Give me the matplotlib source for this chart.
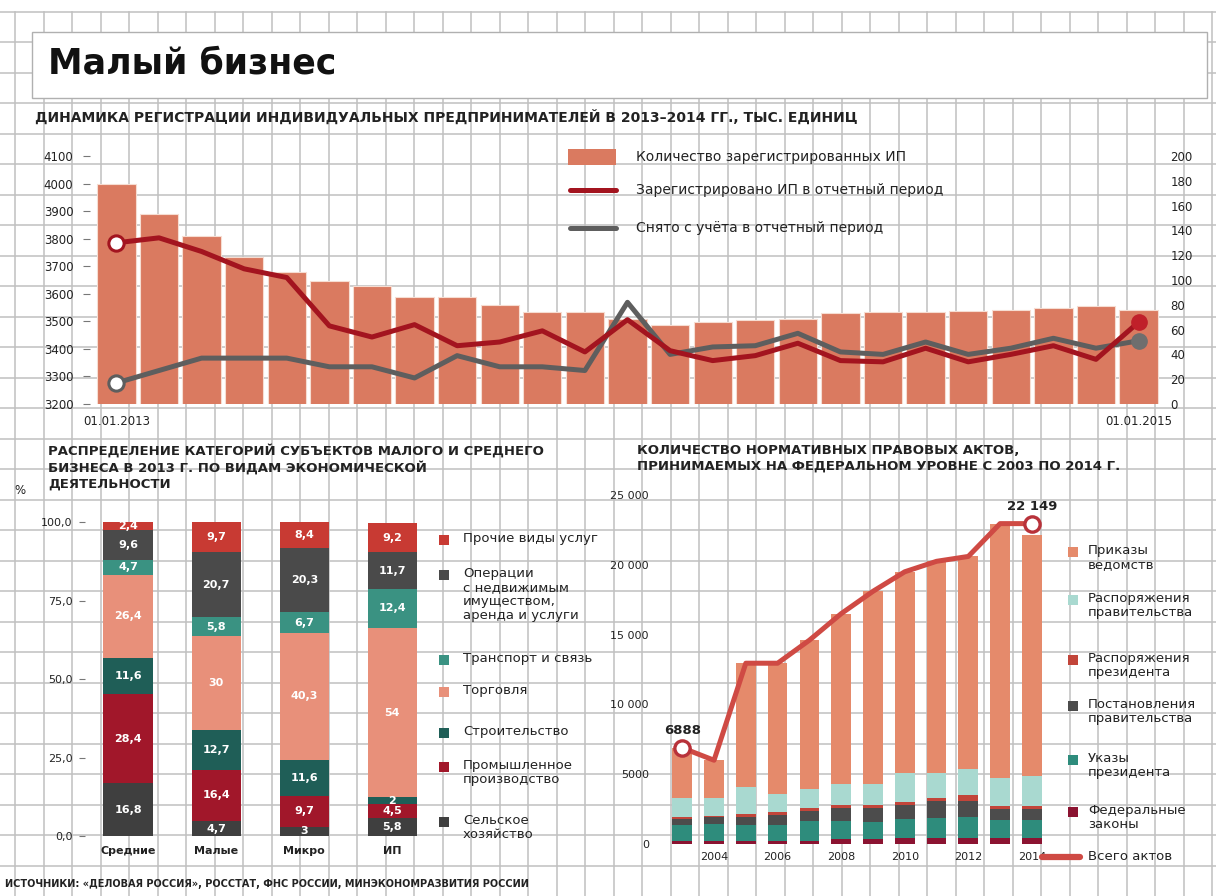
import matplotlib
matplotlib.use('Agg')
import matplotlib.pyplot as plt
from matplotlib.patches import Rectangle
import numpy as np

plt.rcParams['font.family'] = ['DejaVu Sans']

W, H = 1216, 896

# ---------------- Data: top chart (IP registration dynamics) ----------------
period_idx = list(range(25))
period_ticks = [0, 24]
period_tick_labels = ['01.01.2013', '01.01.2015']
ip_registered_total = [4000, 3890, 3810, 3735, 3680, 3645, 3630, 3590, 3588, 3560,
                       3535, 3535, 3510, 3486, 3498, 3504, 3510, 3531, 3535, 3535,
                       3538, 3540, 3547, 3556, 3540]
ip_registered_period = [130, 134, 123, 109, 102, 63, 54, 64, 47, 50, 59, 42, 68,
                        43, 35, 39, 49, 35, 34, 45, 34, 40, 47, 36, 66]
ip_deregistered_period = [17, 27, 37, 37, 37, 30, 30, 21, 39, 30, 30, 27, 82,
                          40, 46, 47, 57, 42, 40, 50, 40, 45, 53, 45, 51]
left_ticks = list(range(3200, 4101, 100))
right_ticks = list(range(0, 201, 20))
top_legend = ['Количество зарегистрированных ИП',
              'Зарегистрировано ИП в отчетный период',
              'Снято с учёта в отчетный период']

# ---------------- Data: bottom-left (structure by activity, %) ----------------
sme_categories = ['Средние', 'Малые', 'Микро', 'ИП']
agriculture = [16.8, 4.7, 3.0, 5.8]
industry = [28.4, 16.4, 9.7, 4.5]
construction = [11.6, 12.7, 11.6, 2.0]
trade = [26.4, 30.0, 40.3, 54.0]
transport = [4.7, 5.8, 6.7, 12.4]
real_estate = [9.6, 20.7, 20.3, 11.7]
other_services = [2.4, 9.7, 8.4, 9.2]
activity_names = ['Сельское\nхозяйство', 'Промышленное\nпроизводство', 'Строительство',
                  'Торговля', 'Транспорт и связь',
                  'Операции\nс недвижимым\nимуществом,\nаренда и услуги',
                  'Прочие виды услуг']
pct_ticks = [0, 25, 50, 75, 100]
pct_tick_labels = ['0,0', '25,0', '50,0', '75,0', '100,0']

# ---------------- Data: bottom-right (normative acts) ----------------
years = list(range(2003, 2015))
federal_laws = [250, 250, 250, 250, 250, 350, 350, 400, 450, 400, 400, 400]
president_decrees = [1100, 1200, 1100, 1100, 1400, 1300, 1250, 1400, 1400, 1500, 1300, 1300]
gov_resolutions = [450, 450, 600, 700, 700, 900, 950, 1000, 1200, 1200, 800, 800]
president_orders = [100, 120, 190, 210, 200, 240, 240, 220, 280, 400, 240, 240]
gov_orders = [1430, 1310, 1910, 1310, 1380, 1500, 1500, 2100, 1790, 1860, 2020, 2140]
agency_orders = [3558, 2670, 8900, 9380, 10670, 12210, 13810, 14380, 15130, 15240, 18190, 17269]
total_acts = [6888, 6000, 12950, 12950, 14600, 16500, 18100, 19500, 20250, 20600, 22950, 22950]
total_point_labels = ['6888', '22 149']
acts_names = ['Федеральные\nзаконы', 'Указы\nпрезидента', 'Постановления\nправительства',
              'Распоряжения\nпрезидента', 'Распоряжения\nправительства', 'Приказы\nведомств']
acts_yticks = [0, 5000, 10000, 15000, 20000, 25000]
acts_ytick_labels = ['0', '5000', '10 000', '15 000', '20 000', '25 000']
acts_xticks = [2004, 2006, 2008, 2010, 2012, 2014]

# ---------------- Styles ----------------
C_BAR = '#DA7A60'
C_RED_LINE = '#A3141F'
C_GRAY_LINE = '#5E5E5E'
act_colors = ['#3F3F3F', '#A1172A', '#1F5E57', '#E8907A', '#3A9282', '#4A4A4A', '#C83A33']
acts_colors = ['#8B1331', '#2E8C7C', '#4C4C4C', '#C2453A', '#A9D9D0', '#E58A6B']
C_TOTAL = '#CF4A44'
TXT = '#222222'

fig = plt.figure(figsize=(W / 100, H / 100), dpi=100)
fig.patch.set_facecolor('white')


def add_ax(x0, y0, x1, y1):
    return fig.add_axes([x0 / W, 1 - y1 / H, (x1 - x0) / W, (y1 - y0) / H])


# background graph paper
bg = add_ax(0, 0, W, H)
bg.set_xlim(0, W)
bg.set_ylim(H, 0)
bg.axis('off')
for gx in np.arange(15, W, 28.5):
    bg.plot([gx, gx], [12, H], color='#c0c0c0', lw=1.1, zorder=1)
for gy in np.arange(12, H, 30.5):
    bg.plot([0, W], [gy, gy], color='#c0c0c0', lw=1.1, zorder=1)
bg.add_patch(Rectangle((32, 32), 1175, 66, facecolor='white', edgecolor='#b0b0b0',
                       lw=1.0, zorder=2))

# ---------------- Top chart ----------------
ax1 = add_ax(90, 156, 1162, 404)
ax1.set_facecolor('none')
ax1.bar(period_idx, ip_registered_total, width=0.9, color=C_BAR,
        edgecolor='#F6DDD2', linewidth=0.8, zorder=2)
ax1.set_ylim(3200, 4100)
ax1.set_xlim(-0.62, 24.55)
ax1.set_yticks(left_ticks)
ax1.set_yticklabels([str(v) for v in left_ticks])
ax1.set_xticks(period_ticks)
ax1.set_xticklabels(period_tick_labels)
ax1.tick_params(axis='y', length=5, width=0.8, color='#777777', pad=7,
                labelsize=8.5, labelcolor=TXT)
ax1.tick_params(axis='x', length=0, pad=8, labelsize=8.5, labelcolor=TXT)
for s in ax1.spines.values():
    s.set_visible(False)

ax2 = ax1.twinx()
ax2.set_ylim(0, 200)
ax2.set_yticks(right_ticks)
ax2.set_yticklabels([str(v) for v in right_ticks])
ax2.tick_params(axis='y', length=0, pad=6, labelsize=8.5, labelcolor=TXT)
for s in ax2.spines.values():
    s.set_visible(False)
ax2.plot(period_idx, ip_deregistered_period, color=C_GRAY_LINE, lw=3.6,
         solid_joinstyle='round', zorder=3)
ax2.plot(period_idx, ip_registered_period, color=C_RED_LINE, lw=3.6,
         solid_joinstyle='round', zorder=4)
ax2.plot([period_idx[0]], [ip_registered_period[0]], 'o', ms=11, mfc='white',
         mec=C_RED_LINE, mew=2.2, zorder=6, clip_on=False)
ax2.plot([period_idx[0]], [ip_deregistered_period[0]], 'o', ms=11, mfc='white',
         mec=C_GRAY_LINE, mew=2.2, zorder=6, clip_on=False)
ax2.plot([period_idx[-1]], [ip_registered_period[-1]], 'o', ms=11, mfc='#C0202A',
         mec='#C0202A', zorder=6, clip_on=False)
ax2.plot([period_idx[-1]], [ip_deregistered_period[-1]], 'o', ms=11, mfc='#6E6E6E',
         mec='#6E6E6E', zorder=6, clip_on=False)

# ---------------- Bottom-left chart ----------------
ax3 = add_ax(85, 522, 432, 836)
ax3.set_facecolor('none')
series = [agriculture, industry, construction, trade, transport, real_estate, other_services]
xpos = np.arange(len(sme_categories))
bottom = np.zeros(len(sme_categories))
for vals, col in zip(series, act_colors):
    vals = np.array(vals)
    ax3.bar(xpos, vals, bottom=bottom, width=0.56, color=col, zorder=2)
    for xi, v, b in zip(xpos, vals, bottom):
        lab = ('%d' % v) if float(v).is_integer() else ('%.1f' % v).replace('.', ',')
        ax3.text(xi, b + v / 2, lab, ha='center', va='center', color='white',
                 fontsize=8, fontweight='bold', zorder=3, clip_on=False)
    bottom = bottom + vals
ax3.set_ylim(0, 100)
ax3.set_xlim(-0.49, 3.45)
ax3.set_yticks(pct_ticks)
ax3.set_yticklabels(pct_tick_labels)
ax3.set_xticks(xpos)
ax3.set_xticklabels(sme_categories)
ax3.tick_params(axis='y', length=4, width=0.8, color='#777777', pad=5,
                labelsize=8, labelcolor=TXT)
ax3.tick_params(axis='x', length=0, pad=7, labelsize=8, labelcolor=TXT)
for lab in ax3.get_xticklabels():
    lab.set_fontweight('bold')
for s in ax3.spines.values():
    s.set_visible(False)

# ---------------- Bottom-right chart ----------------
ax4 = add_ax(660, 495, 1050, 844)
ax4.set_facecolor('none')
acts_series = [federal_laws, president_decrees, gov_resolutions, president_orders,
               gov_orders, agency_orders]
bottom = np.zeros(len(years))
for vals, col in zip(acts_series, acts_colors):
    vals = np.array(vals)
    ax4.bar(years, vals, bottom=bottom, width=0.62, color=col, zorder=2)
    bottom = bottom + vals
ax4.plot(years, total_acts, color=C_TOTAL, lw=3.6, solid_joinstyle='round', zorder=5)
for idx, lab in zip([0, -1], total_point_labels):
    ax4.plot([years[idx]], [total_acts[idx]], 'o', ms=11, mfc='white', mec='#B8323A',
             mew=2.4, zorder=6, clip_on=False)
    ax4.annotate(lab, (years[idx], total_acts[idx]), xytext=(0, 8),
                 textcoords='offset points', ha='center', va='bottom',
                 fontsize=9.5, fontweight='bold', color=TXT, zorder=7)
ax4.set_xlim(2002.3, 2014.57)
ax4.set_ylim(0, 25000)
ax4.set_yticks(acts_yticks)
ax4.set_yticklabels(acts_ytick_labels)
ax4.set_xticks(acts_xticks)
ax4.set_xticklabels([str(y) for y in acts_xticks])
ax4.tick_params(axis='y', length=0, pad=8, labelsize=8, labelcolor=TXT)
ax4.tick_params(axis='x', length=0, pad=6, labelsize=8, labelcolor=TXT)
for s in ax4.spines.values():
    s.set_visible(False)

# ---------------- Overlay texts / legends ----------------
ov = add_ax(0, 0, W, H)
ov.set_xlim(0, W)
ov.set_ylim(H, 0)
ov.axis('off')
ov.patch.set_alpha(0)


def T(x, y, s, size=9.5, weight='normal', ha='left', va='center', color=TXT, ls=1.1):
    ov.text(x, y, s, fontsize=size, fontweight=weight, ha=ha, va=va, color=color,
            linespacing=ls)


T(48, 64, 'Малый бизнес', size=25, weight='bold', color='#111111')
T(35, 117, 'ДИНАМИКА РЕГИСТРАЦИИ ИНДИВИДУАЛЬНЫХ ПРЕДПРИНИМАТЕЛЕЙ В 2013–2014 ГГ., ТЫС. ЕДИНИЦ',
  size=10, weight='bold')

# top legend
ov.add_patch(Rectangle((568, 149), 48, 16, facecolor=C_BAR, edgecolor='none'))
ov.plot([570, 616], [190, 190], color=C_RED_LINE, lw=3.6, solid_capstyle='round')
ov.plot([570, 616], [228, 228], color=C_GRAY_LINE, lw=3.6, solid_capstyle='round')
for yy, s in zip([157, 190, 228], top_legend):
    T(636, yy, s, size=10)

# bottom-left titles / legend
T(48, 444, 'РАСПРЕДЕЛЕНИЕ КАТЕГОРИЙ СУБЪЕКТОВ МАЛОГО И СРЕДНЕГО\n'
           'БИЗНЕСА В 2013 Г. ПО ВИДАМ ЭКОНОМИЧЕСКОЙ\nДЕЯТЕЛЬНОСТИ',
  size=9.5, weight='bold', va='top', ls=1.25)
T(14, 490, '%', size=8.5)
legend_left_y = [822, 767, 733, 692, 660, 575, 540]
for yy, s, col in zip(legend_left_y, activity_names, act_colors):
    ov.add_patch(Rectangle((439, yy - 5), 10, 10, facecolor=col, edgecolor='none'))
    T(463, yy - 8, s, size=9.5, va='top', ls=1.1)

# bottom-right titles / legend
T(637, 444, 'КОЛИЧЕСТВО НОРМАТИВНЫХ ПРАВОВЫХ АКТОВ,\n'
            'ПРИНИМАЕМЫХ НА ФЕДЕРАЛЬНОМ УРОВНЕ С 2003 ПО 2014 Г.',
  size=9.5, weight='bold', va='top', ls=1.25)
legend_right_y = [812, 760, 706, 660, 600, 552]
for yy, s, col in zip(legend_right_y, acts_names, acts_colors):
    ov.add_patch(Rectangle((1068, yy - 5), 10, 10, facecolor=col, edgecolor='none'))
    T(1088, yy - 8, s, size=9.5, va='top', ls=1.1)
ov.plot([1042, 1080], [857, 857], color=C_TOTAL, lw=4.5, solid_capstyle='round')
T(1088, 857, 'Всего актов', size=9.5)

T(5, 884, 'ИСТОЧНИКИ: «ДЕЛОВАЯ РОССИЯ», РОССТАТ, ФНС РОССИИ, МИНЭКОНОМРАЗВИТИЯ РОССИИ',
  size=7, weight='bold')

fig.savefig('out.png', dpi=100)
